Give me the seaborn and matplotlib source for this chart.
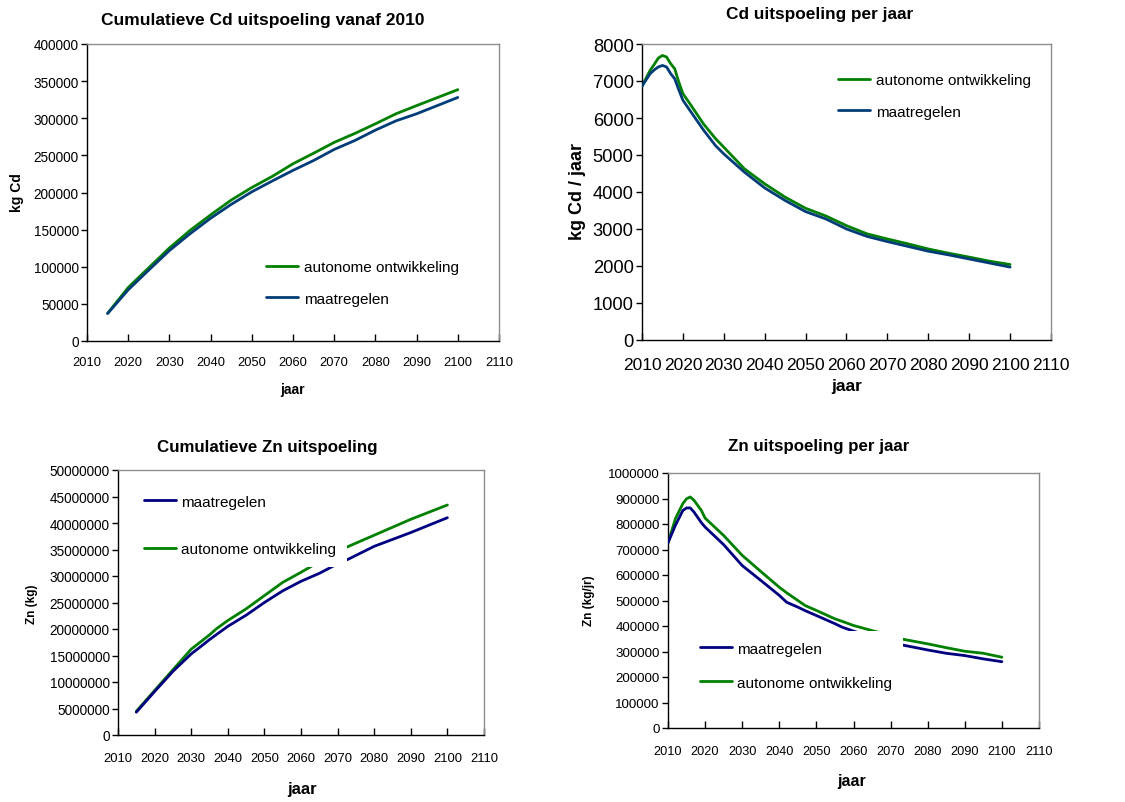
import numpy as np
import pandas as pd
import matplotlib
matplotlib.use("Agg")
import matplotlib.pyplot as plt
import seaborn as sns

sns.set_theme(style="white")
plt.rcParams["font.family"] = ["Liberation Sans", "DejaVu Sans"]
plt.rcParams["text.color"] = "black"
plt.rcParams["axes.labelcolor"] = "black"
plt.rcParams["xtick.color"] = "black"
plt.rcParams["ytick.color"] = "black"

# ---- Cd cumulative (kg) ----
cd_cum_years = [2015, 2020, 2025, 2030, 2035, 2040, 2045, 2050, 2055, 2060, 2065, 2070, 2075, 2080,
                2085, 2090, 2100]
cd_cum_aut = [37300, 72000, 98700, 125300, 148900, 169800, 189800, 206700, 221800, 238700, 252900,
              267500, 279500, 292500, 306000, 317000, 338500]
cd_cum_maat = [37000, 68900, 95600, 121800, 144400, 165300, 184000, 200900, 215600, 229800, 243100,
               258000, 270000, 284000, 296500, 306000, 328000]

# ---- Cd per year (kg/jaar) ----
cd_yr_years = [2010, 2012, 2013, 2014, 2015, 2016, 2017, 2018, 2019, 2020, 2022, 2025, 2028, 2030, 2035,
               2040, 2045, 2050, 2055, 2060, 2065, 2070, 2075, 2080, 2085, 2090, 2095, 2100]
cd_yr_aut = [6860, 7290, 7450, 7620, 7690, 7650, 7470, 7330, 6970, 6660, 6340, 5845, 5440, 5210, 4630,
             4220, 3860, 3560, 3350, 3090, 2870, 2730, 2600, 2460, 2345, 2240, 2130, 2040]
cd_yr_maat = [6860, 7200, 7300, 7380, 7420, 7380, 7200, 7060, 6760, 6480, 6160, 5680, 5250, 5030, 4540,
              4110, 3770, 3470, 3270, 3000, 2800, 2660, 2530, 2400, 2300, 2190, 2080, 1970]

# ---- Zn cumulative (kg) ----
zn_cum_years = [2015, 2020, 2025, 2030, 2033, 2035, 2037, 2040, 2045, 2050, 2055, 2060, 2065, 2070, 2073,
                2080, 2085, 2090, 2100]
zn_cum_aut = [4470000, 8400000, 12300000, 16200000, 17800000, 18900000, 20100000, 21600000, 23800000,
              26300000, 28800000, 30700000, 32700000, 34600000, 35600000, 37700000, 39200000, 40700000, 43400000]
zn_cum_maat = [4300000, 8200000, 12000000, 15300000, 16900000, 18000000, 19000000, 20500000, 22600000,
               25000000, 27200000, 29000000, 30500000, 32300000, 33200000, 35600000, 36900000, 38200000, 41000000]

# ---- Zn per year (kg/jr) ----
zn_yr_years = [2010, 2012, 2014, 2015, 2016, 2017, 2019, 2020, 2025, 2030, 2035, 2040, 2042, 2045, 2047,
               2050, 2055, 2057, 2060, 2065, 2070, 2073, 2080, 2085, 2090, 2095, 2100]
zn_yr_aut = [726000, 821000, 880000, 899000, 906000, 893000, 853000, 823000, 755000, 677000, 614000, 552000,
             530000, 500000, 480000, 461000, 428000, 418000, 402000, 382000, 362000, 349000, 330000, 315000,
             301000, 293000, 277500]
zn_yr_maat = [726000, 795000, 853000, 863000, 863000, 847000, 805000, 788000, 719000, 637000, 579000, 520000,
              493000, 474000, 460000, 441000, 409000, 395000, 380000, 357000, 336000, 326000, 306000, 293000,
              284000, 271000, 260000]

LBL_AUT = "autonome ontwikkeling"
LBL_MAAT = "maatregelen"
GREEN = "#008000"
BLUE_TOP = "#003c78"
BLUE_BOT = "#000080"

W, H = 1125, 803
fig = plt.figure(figsize=(W / 100, H / 100), dpi=100)


def add_axes_px(left, right, top, bottom):
    return fig.add_axes([left / W, 1 - bottom / H, (right - left) / W, (bottom - top) / H])


def style_axes(ax, ylim, yticks, tick_fs_x, tick_fs_y, xpad):
    ax.set_xlim(2010, 2110)
    ax.set_xticks(np.arange(2010, 2111, 10))
    ax.set_ylim(*ylim)
    ax.set_yticks(yticks)
    ax.set_yticklabels([str(int(v)) for v in yticks])
    ax.tick_params(axis="x", direction="in", length=5, width=1, colors="black",
                   labelsize=tick_fs_x, pad=xpad, bottom=True)
    ax.tick_params(axis="y", direction="out", length=4, width=1, colors="black",
                   labelsize=tick_fs_y, pad=2, left=True)
    for s in ("left", "bottom"):
        ax.spines[s].set_color("black")
        ax.spines[s].set_linewidth(1.0)
    for s in ("top", "right"):
        ax.spines[s].set_color("#8c8c8c")
        ax.spines[s].set_linewidth(1.0)
    ax.set_xlabel("")
    ax.set_ylabel("")
    ax.grid(False)
    ax.set_facecolor("white")


def draw_pair(ax, xa, ya, xm, ym, blue, order):
    sns.lineplot(x=xa, y=ya, ax=ax, color=GREEN, lw=2.0, label=LBL_AUT, zorder=2)
    sns.lineplot(x=xm, y=ym, ax=ax, color=blue, lw=2.0, label=LBL_MAAT, zorder=3)
    handles, labels = ax.get_legend_handles_labels()
    hmap = dict(zip(labels, handles))
    return [hmap[k] for k in order], order


def place_legend(ax, handles, labels, box_left, box_top, spacing, pad):
    leg = ax.legend(handles, labels, loc="upper left",
                    bbox_to_anchor=(box_left / W, 1 - box_top / H),
                    bbox_transform=fig.transFigure, borderaxespad=0,
                    fontsize=11, frameon=True, fancybox=False, framealpha=1,
                    facecolor="white", edgecolor="none", handlelength=2.1,
                    handletextpad=0.35, labelspacing=spacing, borderpad=pad)
    for t in leg.get_texts():
        t.set_color("black")
    leg.set_zorder(5)
    return leg


def label(x, y, text, size, rotation=0):
    fig.text(x / W, 1 - y / H, text, ha="center", va="center", rotation=rotation,
             fontsize=size, fontweight="bold", color="black")


# Panel 1: cumulative Cd
ax1 = add_axes_px(87, 499, 45, 342)
h, l = draw_pair(ax1, cd_cum_years, cd_cum_aut, cd_cum_years, cd_cum_maat, BLUE_TOP,
                 [LBL_AUT, LBL_MAAT])
style_axes(ax1, (0, 400000), np.arange(0, 400001, 50000), 9.3, 9.8, 11)
place_legend(ax1, h, l, 257, 252, 1.15, 0.6)
label(263, 20, "Cumulatieve Cd uitspoeling vanaf 2010", 12.5)
label(17, 193, "kg Cd", 10, 90)
label(292, 390, "jaar", 10)

# Panel 2: Cd per year
ax2 = add_axes_px(642, 1051, 45, 341)
h, l = draw_pair(ax2, cd_yr_years, cd_yr_aut, cd_yr_years, cd_yr_maat, BLUE_TOP, [LBL_AUT, LBL_MAAT])
style_axes(ax2, (0, 8000), np.arange(0, 8001, 1000), 12.5, 13.2, 12)
place_legend(ax2, h, l, 829, 65, 1.15, 0.6)
label(820, 14, "Cd uitspoeling per jaar", 12.4)
label(577, 192, "kg Cd / jaar", 13, 90)
label(847, 387, "jaar", 12.5)

# Panel 3: cumulative Zn
ax3 = add_axes_px(118, 484, 471, 736)
h, l = draw_pair(ax3, zn_cum_years, zn_cum_aut, zn_cum_years, zn_cum_maat, BLUE_BOT, [LBL_MAAT, LBL_AUT])
style_axes(ax3, (0, 50000000), np.arange(0, 50000001, 5000000), 9.4, 9.8, 12)
place_legend(ax3, h, l, 133, 485, 2.2, 0.7)
label(267, 448, "Cumulatieve Zn uitspoeling", 12.2)
label(32, 604, "Zn (kg)", 8.5, 90)
label(302, 790, "jaar", 12)

# Panel 4: Zn per year
ax4 = add_axes_px(668, 1039, 474, 729)
h, l = draw_pair(ax4, zn_yr_years, zn_yr_aut, zn_yr_years, zn_yr_maat, BLUE_BOT, [LBL_MAAT, LBL_AUT])
style_axes(ax4, (0, 1000000), np.arange(0, 1000001, 100000), 9.2, 9.6, 12)
place_legend(ax4, h, l, 689, 632, 1.3, 0.7)
label(819, 447, "Zn uitspoeling per jaar", 12.2)
label(589, 601, "Zn (kg/jr)", 8.5, 90)
label(852, 782, "jaar", 11.5)

fig.savefig("out.png", dpi=100, facecolor="white")
